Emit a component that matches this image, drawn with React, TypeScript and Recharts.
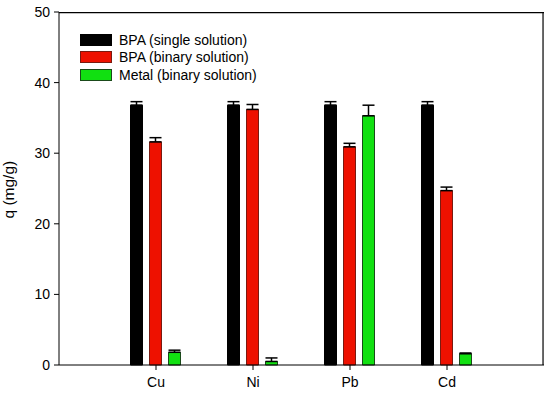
import { BarChart, Bar, XAxis, YAxis, ErrorBar, ReferenceLine } from 'recharts'

const metals = ['Cu', 'Ni', 'Pb', 'Cd']
const bpaSingle = [36.8, 36.8, 36.8, 36.8]
const bpaSingleErr = [0.5, 0.5, 0.5, 0.5]
const bpaBinary = [31.6, 36.2, 30.9, 24.7]
const bpaBinaryErr = [0.6, 0.7, 0.5, 0.5]
const metalBinary = [1.8, 0.5, 35.3, 1.6]
const metalBinaryErr = [0.3, 0.5, 1.5, 0.1]
const yTicks = [0, 10, 20, 30, 40, 50]

const FONT = '"Liberation Sans", Arial, sans-serif'

const series = [
  { key: 'single', name: 'BPA (single solution)', fill: '#000000', stroke: '#000000' },
  { key: 'binary', name: 'BPA (binary solution)', fill: '#ee1100', stroke: '#7a1a10' },
  { key: 'metal', name: 'Metal (binary solution)', fill: '#11e011', stroke: '#1a4a1a' },
]

// categories sit at 1..4 on a 0..5 numeric axis (one empty slot each side)
const data = metals.map((m, i) => ({
  pos: i + 1,
  name: m,
  single: bpaSingle[i],
  singleErr: [0, bpaSingleErr[i]],
  binary: bpaBinary[i],
  binaryErr: [0, bpaBinaryErr[i]],
  metal: metalBinary[i],
  metalErr: [0, metalBinaryErr[i]],
}))

// legend is plain html laid over the plot
const LegendBox = () => (
  <div style={{ position: 'absolute', left: 80, top: 31, fontFamily: FONT, fontSize: 14, color: '#000' }}>
    {series.map((s) => (
      <div key={s.key} style={{ display: 'flex', alignItems: 'center', height: 17.5 }}>
        <div
          style={{
            width: 30,
            height: 10,
            background: s.fill,
            border: `1px solid ${s.stroke}`,
            marginRight: 7,
          }}
        />
        <span>{s.name}</span>
      </div>
    ))}
  </div>
)

export default function App() {
  return (
    <div style={{ position: 'absolute', left: 0, top: 0, width: 550, height: 396, background: '#fff' }}>
      <BarChart
        width={550}
        height={396}
        data={data}
        margin={{ top: 12, right: 6, bottom: 0, left: 0 }}
        barSize={12}
        barGap={7}
      >
        <XAxis
          dataKey="pos"
          type="number"
          domain={[0, 5]}
          ticks={[1, 2, 3, 4]}
          tickFormatter={(v: number) => metals[v - 1]}
          height={31}
          stroke="#000"
          tickSize={5}
          tickMargin={7}
          tick={{ fill: '#000', fontSize: 14, fontFamily: FONT }}
        />
        <YAxis
          domain={[0, 50]}
          ticks={yTicks}
          width={59}
          stroke="#000"
          tickSize={5}
          tickMargin={4}
          tick={{ fill: '#000', fontSize: 14, fontFamily: FONT }}
          label={{
            value: 'q (mg/g)',
            angle: -90,
            position: 'insideLeft',
            offset: 8,
            dy: 30,
            style: { fill: '#000', fontSize: 15.5, fontFamily: FONT },
          }}
        />
        {series.map((s) => (
          <Bar
            key={s.key}
            dataKey={s.key}
            name={s.name}
            fill={s.fill}
            stroke={s.stroke}
            strokeWidth={1}
            isAnimationActive={false}
          >
            <ErrorBar dataKey={`${s.key}Err`} width={6} stroke="#000" strokeWidth={1.5} />
          </Bar>
        ))}
        {/* top and right frame lines */}
        <ReferenceLine y={49.9} stroke="#000" strokeWidth={1.2} />
        <ReferenceLine x={4.99} stroke="#000" strokeWidth={1.2} />
      </BarChart>
      <LegendBox />
    </div>
  )
}
